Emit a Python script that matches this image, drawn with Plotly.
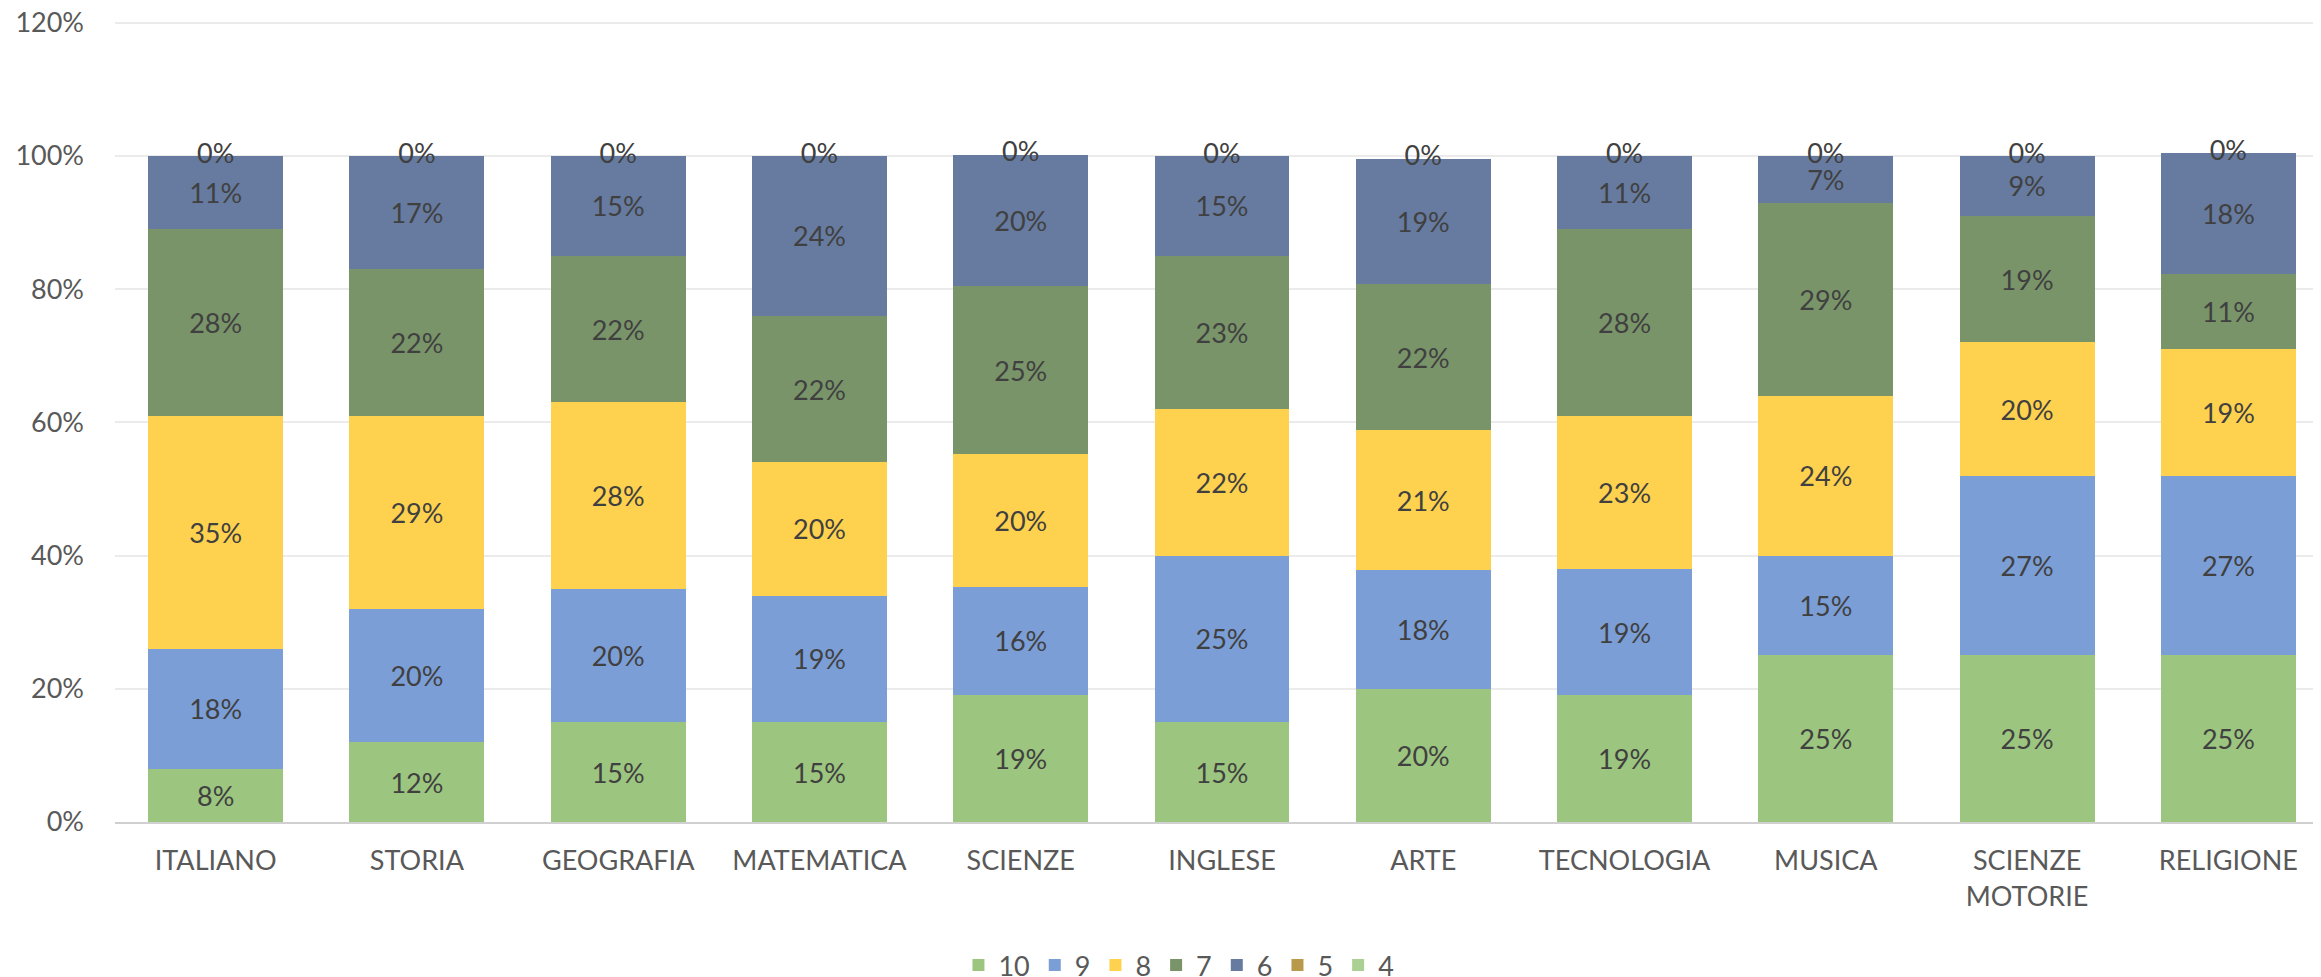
import plotly.graph_objects as go

# materie (categorie sull'asse x)
subjects = ["ITALIANO", "STORIA", "GEOGRAFIA", "MATEMATICA", "SCIENZE", "INGLESE",
            "ARTE", "TECNOLOGIA", "MUSICA", "SCIENZE<br>MOTORIE", "RELIGIONE"]

# percentuali per voto (dal basso verso l'alto)
vote_10 = [8, 12, 15, 15, 19.1, 15, 20, 19, 25, 25, 25]
vote_9 = [18, 20, 20, 19, 16.2, 25, 17.8, 19, 15, 27, 27]
vote_8 = [35, 29, 28, 20, 19.9, 22, 21, 23, 24, 20, 19]
vote_7 = [28, 22, 22, 22, 25.3, 23, 22, 28, 29, 19, 11.3]
vote_6 = [11, 17, 15, 24, 19.7, 15, 18.8, 11, 7, 9, 18.1]
vote_5 = [0, 0, 0, 0, 0, 0, 0, 0, 0, 0, 0]
vote_4 = [0, 0, 0, 0, 0, 0, 0, 0, 0, 0, 0]

series = [
    ("10", vote_10, "#9CC57F"),
    ("9", vote_9, "#7B9ED6"),
    ("8", vote_8, "#FED24E"),
    ("7", vote_7, "#799469"),
    ("6", vote_6, "#667B9F"),
    ("5", vote_5, "#B89A4A"),
    ("4", vote_4, "#AAD094"),
]

FONT = "Lato, 'Open Sans', sans-serif"

fig = go.Figure()
for name, vals, color in series:
    y = [v / 100 for v in vals]
    fig.add_trace(go.Bar(
        name=name, x=subjects, y=y,
        marker=dict(color=color, line=dict(width=0)),
        text=[f"{v:.0f}%" for v in vals] if any(vals) else None,
        textposition="inside", insidetextanchor="middle", textangle=0,
        constraintext="none",
        textfont=dict(family=FONT, size=27, color="#404040"),
    ))

# etichette dei voti a zero, in cima alla colonna
totals = [sum(s[1][i] for s in series) / 100 for i in range(len(subjects))]
fig.add_trace(go.Scatter(
    x=subjects, y=totals, mode="text",
    text=[f"{v:.0f}%" for v in vote_4],
    textposition="middle center",
    textfont=dict(family=FONT, size=27, color="#404040"),
    showlegend=False, hoverinfo="skip",
))

fig.update_layout(
    barmode="stack",
    bargap=0.33,
    width=2321, height=977,
    margin=dict(l=107, r=0, t=8, b=163),
    paper_bgcolor="white", plot_bgcolor="white",
    font=dict(family=FONT, color="#595959"),
    legend=dict(
        orientation="h", traceorder="normal",
        xref="container", yref="container",
        x=0.5045, y=0.02, xanchor="center", yanchor="middle",
        font=dict(size=27, color="#595959"),
        itemwidth=30,
    ),
    xaxis=dict(
        range=[-0.5, 10.5], automargin=False,
        tickfont=dict(size=27, color="#595959"),
        showline=True, linecolor="#D0D0D0", linewidth=2,
        ticks="", ticklabelstandoff=14,
    ),
    yaxis=dict(
        range=[0, 1.21], tick0=0, dtick=0.2, tickformat=".0%", automargin=False,
        ticklabeloverflow="allow",
        tickfont=dict(size=27, color="#595959"),
        showgrid=True, gridcolor="#EBEBEB", gridwidth=2,
        zeroline=False, ticklabelstandoff=30,
    ),
)

fig.write_html("out.html")
